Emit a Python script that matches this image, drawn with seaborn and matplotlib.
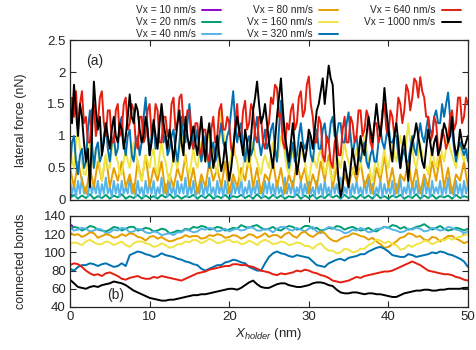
import numpy as np
import pandas as pd
import matplotlib
matplotlib.use('Agg')
import matplotlib.pyplot as plt
import seaborn as sns
from matplotlib.lines import Line2D
from matplotlib.ticker import FormatStrFormatter

# --- data ---

speeds = ['Vx = 10 nm/s', 'Vx = 20 nm/s', 'Vx = 40 nm/s', 'Vx = 80 nm/s',
          'Vx = 160 nm/s', 'Vx = 320 nm/s', 'Vx = 640 nm/s', 'Vx = 1000 nm/s']
colors = ['#9400d3', '#009e73', '#56b4e9', '#e69f00',
          '#f0e442', '#0072b2', '#e51e10', '#000000']

# lateral force (nN); sampling step (nm) of each run
force_steps = [0.15, 0.5, 0.25, 0.25, 0.25, 0.25, 0.25, 0.25]
force_10 = [0.05, 0.08, 0.06]      # only a short run
force_20 = [0.03, 0.08, 0.02, 0.07, 0.03, 0.09, 0.02, 0.06, 0.03, 0.08,
            0.02, 0.07, 0.04, 0.09, 0.02, 0.06, 0.03, 0.08, 0.02, 0.07,
            0.03, 0.06, 0.02, 0.08, 0.04, 0.09, 0.03, 0.07, 0.02, 0.06,
            0.04, 0.08, 0.02, 0.07, 0.03, 0.09, 0.02, 0.06, 0.03, 0.08,
            0.02, 0.06, 0.04, 0.08, 0.03, 0.07, 0.02, 0.09, 0.03, 0.06,
            0.02, 0.08, 0.03, 0.07, 0.02, 0.06, 0.04, 0.09, 0.02, 0.07,
            0.03, 0.08, 0.02, 0.06, 0.03, 0.09, 0.04, 0.07, 0.02, 0.08,
            0.03, 0.06, 0.02, 0.08, 0.03, 0.07, 0.02, 0.09, 0.03, 0.06,
            0.02, 0.07, 0.04, 0.08, 0.02, 0.06, 0.03, 0.09, 0.02, 0.07,
            0.03, 0.08, 0.02, 0.06, 0.04, 0.07, 0.02, 0.08, 0.03, 0.06,
            0.04]
force_40 = [0.3, 0.1, 0.25, 0.05, 0.3, 0.1, 0.35, 0.1, 0.2, 0.05, 0.3, 0.1, 0.25, 0.1, 0.3, 0.05, 0.25, 0.1, 0.35, 0.1,
            0.2, 0.05, 0.3, 0.1, 0.25, 0.05, 0.3, 0.1, 0.2, 0.1, 0.35, 0.1, 0.25, 0.05, 0.3, 0.1, 0.2, 0.05, 0.3, 0.1,
            0.25, 0.1, 0.3, 0.05, 0.2, 0.1, 0.35, 0.1, 0.25, 0.05, 0.3, 0.1, 0.2, 0.05, 0.3, 0.1, 0.25, 0.1, 0.35, 0.05,
            0.25, 0.1, 0.3, 0.05, 0.2, 0.1, 0.3, 0.05, 0.25, 0.1, 0.35, 0.1, 0.2, 0.05, 0.3, 0.1, 0.25, 0.05, 0.3, 0.1,
            0.2, 0.05, 0.3, 0.1, 0.25, 0.1, 0.35, 0.05, 0.2, 0.1, 0.3, 0.05, 0.25, 0.1, 0.3, 0.1, 0.2, 0.05, 0.3, 0.1,
            0.3, 0.1, 0.25, 0.05, 0.3, 0.1, 0.2, 0.05, 0.35, 0.1, 0.25, 0.1, 0.3, 0.05, 0.2, 0.1, 0.3, 0.05, 0.25, 0.1,
            0.35, 0.1, 0.2, 0.05, 0.3, 0.1, 0.25, 0.05, 0.3, 0.1, 0.2, 0.05, 0.3, 0.1, 0.25, 0.1, 0.35, 0.05, 0.2, 0.1,
            0.3, 0.05, 0.25, 0.1, 0.3, 0.1, 0.2, 0.05, 0.3, 0.1, 0.35, 0.1, 0.25, 0.05, 0.2, 0.1, 0.3, 0.05, 0.25, 0.1,
            0.2, 0.1, 0.3, 0.05, 0.25, 0.1, 0.35, 0.05, 0.2, 0.1, 0.3, 0.05, 0.25, 0.1, 0.3, 0.1, 0.2, 0.05, 0.35, 0.1,
            0.25, 0.05, 0.3, 0.1, 0.2, 0.1, 0.3, 0.05, 0.25, 0.1, 0.35, 0.1, 0.2, 0.05, 0.3, 0.1, 0.25, 0.05, 0.3, 0.1,
            0.25]
force_80 = [0.5, 0.35, 0.2, 0.4, 0.6, 0.45, 0.3, 0.2, 0.1, 0.3, 0.5, 0.35, 0.2, 0.4, 0.6, 0.45, 0.3, 0.5, 0.7, 0.45,
            0.2, 0.35, 0.5, 0.4, 0.3, 0.45, 0.6, 0.4, 0.2, 0.3, 0.4, 0.25, 0.1, 0.35, 0.6, 0.45, 0.3, 0.5, 0.7, 0.45,
            0.2, 0.35, 0.5, 0.4, 0.3, 0.45, 0.6, 0.35, 0.1, 0.25, 0.4, 0.3, 0.2, 0.35, 0.5, 0.4, 0.3, 0.5, 0.7, 0.45,
            0.2, 0.35, 0.5, 0.3, 0.1, 0.25, 0.4, 0.3, 0.2, 0.4, 0.6, 0.45, 0.3, 0.4, 0.5, 0.35, 0.2, 0.4, 0.6, 0.35,
            0.1, 0.25, 0.4, 0.3, 0.2, 0.35, 0.5, 0.4, 0.3, 0.5, 0.7, 0.45, 0.2, 0.35, 0.5, 0.3, 0.1, 0.25, 0.4, 0.35,
            0.3, 0.45, 0.6, 0.4, 0.2, 0.35, 0.5, 0.3, 0.1, 0.25, 0.4, 0.3, 0.2, 0.4, 0.6, 0.45, 0.3, 0.4, 0.5, 0.3,
            0.1, 0.25, 0.4, 0.3, 0.2, 0.4, 0.6, 0.45, 0.3, 0.5, 0.7, 0.45, 0.2, 0.35, 0.5, 0.3, 0.1, 0.25, 0.4, 0.3,
            0.2, 0.35, 0.5, 0.4, 0.3, 0.45, 0.6, 0.4, 0.2, 0.3, 0.4, 0.25, 0.1, 0.3, 0.5, 0.4, 0.3, 0.5, 0.7, 0.45,
            0.2, 0.35, 0.5, 0.3, 0.1, 0.25, 0.4, 0.35, 0.3, 0.45, 0.6, 0.4, 0.2, 0.35, 0.5, 0.3, 0.1, 0.25, 0.4, 0.3,
            0.2, 0.4, 0.6, 0.45, 0.3, 0.5, 0.7, 0.45, 0.2, 0.35, 0.5, 0.3, 0.1, 0.25, 0.4, 0.35, 0.3, 0.45, 0.6, 0.4,
            0.2]
force_160 = [0.9, 0.6, 0.5, 0.9, 1.1, 0.8, 0.6, 0.4, 0.4, 0.7, 0.9, 0.6, 0.5, 0.8, 0.8, 0.5, 0.3, 0.5, 0.7, 0.5,
             0.5, 0.8, 1.0, 0.7, 0.6, 0.4, 0.4, 0.6, 0.8, 0.6, 0.5, 0.7, 0.9, 0.7, 0.6, 0.4, 0.3, 0.5, 0.7, 0.6,
             0.5, 0.7, 0.8, 0.5, 0.4, 0.7, 0.9, 0.7, 0.6, 0.4, 0.3, 0.5, 0.7, 0.6, 0.5, 0.8, 1.0, 0.8, 0.6, 0.5,
             0.4, 0.6, 0.8, 0.6, 0.5, 0.7, 0.9, 0.8, 0.6, 0.9, 1.1, 0.9, 0.7, 0.5, 0.4, 0.9, 1.4, 1.1, 0.8, 0.6,
             0.5, 0.7, 0.9, 0.7, 0.6, 0.4, 0.3, 0.5, 0.8, 0.6, 0.5, 0.7, 0.9, 0.7, 0.6, 0.5, 0.4, 0.6, 0.7, 0.6,
             0.5, 0.7, 0.9, 0.8, 0.6, 0.8, 1.0, 0.9, 0.7, 0.5, 0.4, 0.6, 0.8, 0.6, 0.5, 0.7, 0.9, 0.7, 0.6, 0.4,
             0.3, 0.5, 0.7, 0.6, 0.5, 0.7, 0.8, 0.6, 0.4, 0.5, 0.6, 0.4, 0.3, 0.5, 0.7, 0.6, 0.5, 0.7, 0.9, 0.7,
             0.6, 0.5, 0.4, 0.6, 0.8, 0.6, 0.5, 0.8, 1.0, 0.8, 0.6, 0.4, 0.3, 0.5, 0.7, 0.5, 0.4, 0.6, 0.8, 0.6,
             0.5, 0.7, 0.9, 0.7, 0.6, 0.8, 1.0, 0.8, 0.7, 0.9, 1.2, 0.9, 0.8, 0.6, 0.5, 0.7, 0.9, 0.7, 0.6, 0.5,
             0.4, 0.6, 0.8, 0.6, 0.5, 0.7, 0.9, 0.7, 0.6, 0.8, 1.0, 0.8, 0.7, 0.6, 0.5, 0.7, 0.9, 0.7, 0.6, 0.7,
             0.8]
force_320 = [0.5, 0.9, 1.0, 0.6, 0.4, 0.7, 0.8, 0.5, 0.6, 1.1, 1.4, 0.9, 0.5, 0.8, 0.9, 0.6, 0.7, 1.0, 1.2, 0.8,
             0.6, 0.9, 1.0, 0.7, 0.8, 1.2, 1.3, 0.9, 0.7, 1.0, 1.1, 0.7, 0.6, 0.9, 1.0, 0.7, 0.9, 1.3, 1.6, 1.1,
             0.7, 1.0, 1.2, 0.8, 0.9, 1.3, 1.35, 0.9, 1.0, 0.7, 0.8, 1.0, 1.1, 0.8, 0.6, 0.9, 1.3, 1.0, 0.9, 1.2,
             1.5, 1.1, 0.8, 0.9, 1.1, 0.8, 0.6, 0.8, 1.0, 0.7, 0.5, 0.8, 0.9, 0.6, 0.7, 1.0, 1.2, 0.9, 0.8, 1.0,
             1.1, 1.4, 1.7, 1.2, 0.9, 1.1, 1.2, 0.8, 0.6, 0.9, 1.0, 0.7, 0.8, 1.1, 1.3, 0.9, 0.7, 0.9, 1.1, 0.8,
             0.9, 1.1, 1.2, 0.8, 0.6, 1.1, 1.55, 1.2, 1.0, 0.7, 0.5, 0.7, 0.9, 0.6, 0.7, 1.0, 1.2, 0.9, 0.8, 0.9,
             1.0, 0.7, 0.6, 0.9, 1.1, 0.8, 0.8, 1.1, 1.2, 0.9, 0.9, 1.2, 1.3, 1.0, 1.0, 1.2, 1.2, 0.9, 0.9, 1.2,
             1.37, 1.0, 0.7, 0.9, 1.0, 0.7, 0.6, 0.8, 0.9, 0.6, 0.5, 0.7, 0.8, 0.6, 0.6, 0.9, 1.1, 0.9, 0.8, 1.0,
             1.2, 0.9, 0.9, 1.0, 1.0, 0.7, 0.5, 0.7, 0.8, 0.6, 0.6, 0.8, 1.0, 0.8, 0.7, 1.0, 1.2, 1.0, 0.9, 1.1,
             1.3, 1.1, 1.0, 1.3, 1.4, 1.2, 1.2, 1.5, 1.3, 1.5, 1.68, 1.3, 1.1, 0.8, 0.6, 0.8, 0.9, 0.8, 0.7, 0.8,
             0.6]
force_640 = [1.2, 1.6, 1.3, 1.7, 1.1, 1.5, 1.7, 1.2, 1.3, 0.9, 0.9, 1.4, 1.5, 1.0, 1.2, 1.6, 1.7, 1.2, 1.0, 1.4,
             1.4, 0.9, 0.9, 1.4, 1.5, 1.0, 1.1, 1.5, 1.6, 1.1, 1.2, 1.5, 1.4, 0.9, 0.8, 1.3, 1.3, 0.9, 1.0, 1.4,
             1.5, 1.0, 1.1, 1.5, 1.4, 0.9, 0.9, 1.3, 1.3, 1.0, 1.0, 1.5, 1.6, 1.1, 1.2, 1.6, 1.65, 1.2, 1.1, 1.4,
             1.4, 0.9, 0.8, 1.2, 1.2, 0.8, 0.7, 1.1, 1.1, 0.7, 0.6, 1.1, 1.3, 0.9, 1.0, 1.4, 1.5, 1.1, 1.1, 1.3,
             1.2, 0.8, 0.7, 1.2, 1.5, 1.0, 1.0, 1.4, 1.55, 1.1, 1.2, 1.5, 1.4, 1.0, 0.9, 1.3, 1.3, 0.9, 0.8, 1.1,
             1.2, 1.6, 1.5, 1.8, 1.75, 1.3, 1.35, 0.9, 0.8, 1.2, 1.1, 1.4, 1.5, 1.1, 1.2, 1.6, 1.7, 1.3, 1.4, 1.8,
             1.93, 1.5, 1.3, 0.9, 0.9, 1.3, 1.2, 0.7, 0.6, 1.0, 0.9, 0.6, 0.5, 0.9, 1.0, 0.7, 0.7, 1.1, 1.3, 0.9,
             0.9, 1.3, 1.2, 0.9, 1.0, 1.4, 1.4, 1.0, 1.1, 1.4, 1.3, 0.9, 0.8, 1.2, 1.2, 0.9, 1.0, 1.4, 1.5, 1.1,
             1.0, 1.4, 1.3, 1.0, 1.2, 1.6, 1.5, 1.2, 1.4, 1.8, 1.7, 1.4, 1.6, 1.9, 1.85, 1.6, 1.92, 1.7, 1.6, 1.3,
             1.3, 0.9, 1.0, 1.3, 1.2, 0.8, 0.8, 1.1, 1.0, 0.8, 0.9, 1.3, 1.4, 1.1, 1.2, 1.6, 1.6, 1.2, 1.3, 1.6,
             1.5]
force_1000 = [1.5, 1.2, 1.8, 1.4, 1.0, 1.5, 1.3, 0.9, 0.6, 0.8, 0.2, 1.0, 1.85, 1.4, 1.1, 1.3, 0.7, 0.9, 1.2, 1.0,
              0.8, 1.1, 1.3, 1.0, 0.9, 1.2, 1.1, 0.8, 1.0, 1.3, 1.65, 1.3, 1.2, 1.5, 1.4, 1.1, 0.9, 1.0, 1.3, 1.1,
              0.7, 0.9, 1.25, 1.0, 0.8, 1.2, 1.5, 1.2, 1.0, 0.8, 1.1, 0.9, 0.6, 0.9, 1.2, 1.4, 0.9, 0.7, 1.3, 1.0,
              0.8, 1.0, 1.15, 0.9, 0.7, 1.0, 1.3, 0.9, 0.6, 1.0, 1.2, 0.8, 0.5, 0.7, 1.0, 0.7, 0.45, 0.6, 0.9, 0.6,
              0.3, 0.5, 0.8, 1.1, 1.3, 1.1, 0.9, 0.7, 1.1, 0.9, 0.6, 1.0, 1.4, 1.6, 1.85, 1.5, 1.2, 1.3, 1.5, 1.2,
              0.9, 0.7, 0.5, 0.9, 1.3, 1.6, 1.9, 1.4, 1.0, 0.8, 0.6, 0.9, 1.2, 0.8, 0.4, 0.6, 0.9, 0.8, 0.6, 0.8,
              1.1, 1.0, 0.8, 1.1, 1.4, 1.5, 1.7, 1.9, 1.5, 1.8, 2.1, 1.9, 1.8, 1.2, 0.7, 0.3, 0.05, 0.2, 0.6, 0.4,
              0.2, 0.5, 0.8, 0.6, 0.4, 0.7, 1.0, 0.8, 0.7, 1.0, 1.3, 1.1, 0.9, 1.2, 1.5, 1.2, 1.0, 1.3, 1.75, 1.4,
              1.1, 0.8, 0.6, 1.0, 1.2, 0.9, 0.5, 0.8, 1.0, 0.6, 0.3, 0.7, 0.9, 1.0, 1.2, 1.0, 0.8, 0.6, 0.5, 0.8,
              1.1, 0.9, 0.7, 0.9, 1.0, 0.7, 0.8, 1.0, 1.2, 1.1, 0.9, 1.0, 1.3, 0.9, 0.7, 0.8, 1.1, 0.9, 0.8, 0.9,
              1.0]

# connected bonds, one value every 0.5 nm (short run for 10 nm/s)
bonds_steps = [0.15, 0.5, 0.5, 0.5, 0.5, 0.5, 0.5, 0.5]
bonds_10 = [128, 130, 129]
bonds_20 = [125, 128, 127, 124, 126, 129, 128, 125, 124, 123,
            125, 128, 127, 124, 126, 128, 128, 124, 125, 127,
            126, 123, 124, 126, 125, 121, 122, 124, 123, 126,
            125, 128, 127, 129, 128, 125, 126, 128, 127, 124,
            125, 127, 126, 130, 128, 127, 129, 130, 127, 125,
            126, 128, 125, 124, 127, 129, 128, 125, 126, 129,
            129, 126, 127, 124, 125, 127, 126, 129, 128, 125,
            127, 128, 126, 124, 125, 127, 124, 123, 126, 128,
            127, 130, 129, 126, 128, 125, 126, 128, 129, 131,
            128, 125, 127, 129, 126, 124, 125, 127, 126, 124,
            126]
bonds_40 = [127, 124, 125, 127, 126, 123, 124, 126, 125, 121,
            122, 125, 124, 127, 126, 122, 123, 126, 125, 122,
            121, 123, 122, 119, 120, 121, 119, 122, 122, 125,
            124, 122, 123, 126, 125, 127, 126, 123, 124, 126,
            123, 125, 126, 124, 125, 128, 127, 124, 124, 126,
            125, 122, 126, 128, 128, 125, 124, 127, 125, 123,
            126, 128, 123, 121, 125, 128, 127, 125, 124, 121,
            122, 125, 124, 127, 125, 122, 123, 126, 126, 128,
            127, 125, 124, 122, 123, 126, 125, 127, 126, 123,
            124, 127, 126, 124, 125, 128, 127, 125, 124, 121,
            123]
bonds_80 = [122, 119, 120, 117, 119, 122, 121, 116, 118, 120,
            119, 116, 117, 120, 118, 121, 120, 117, 116, 113,
            117, 118, 115, 117, 114, 112, 113, 115, 116, 119,
            117, 118, 118, 115, 116, 119, 118, 120, 119, 116,
            117, 119, 118, 115, 117, 120, 119, 116, 118, 121,
            117, 119, 119, 116, 120, 122, 118, 116, 121, 123,
            119, 117, 120, 123, 121, 116, 113, 112, 115, 117,
            118, 121, 120, 118, 117, 114, 116, 112, 109, 105,
            106, 109, 112, 116, 117, 121, 120, 117, 118, 114,
            113, 117, 116, 112, 115, 118, 118, 115, 113, 110,
            112]
bonds_160 = [109, 111, 110, 108, 112, 114, 111, 109, 109, 112,
             111, 108, 110, 112, 108, 106, 110, 112, 112, 110,
             109, 106, 107, 110, 108, 105, 106, 109, 109, 112,
             111, 114, 113, 110, 112, 115, 113, 110, 111, 113,
             114, 111, 112, 109, 110, 113, 111, 108, 112, 114,
             112, 109, 110, 112, 111, 108, 109, 111, 110, 107,
             107, 104, 108, 110, 105, 102, 102, 99, 100, 104,
             103, 100, 101, 104, 104, 108, 110, 114, 113, 110,
             112, 109, 108, 103, 104, 108, 106, 109, 110, 113,
             112, 109, 111, 114, 113, 116, 114, 116, 117, 119,
             120]
bonds_320 = [82, 80, 84, 86, 86, 88, 87, 85, 87, 88,
             86, 84, 85, 88, 85, 97, 99, 101, 100, 98,
             97, 95, 96, 99, 97, 96, 95, 93, 92, 90,
             89, 87, 86, 82, 80, 82, 84, 86, 86, 89,
             90, 92, 91, 89, 88, 84, 82, 80, 80, 88,
             95, 99, 101, 99, 98, 96, 95, 97, 96, 95,
             94, 90, 86, 85, 84, 88, 90, 92, 93, 91,
             94, 95, 96, 98, 98, 101, 103, 105, 106, 104,
             101, 97, 96, 95, 95, 98, 97, 95, 96, 97,
             98, 100, 99, 101, 100, 98, 97, 95, 93, 90,
             84]
bonds_640 = [86, 88, 87, 84, 80, 77, 75, 76, 74, 77,
             78, 76, 74, 71, 70, 72, 73, 74, 72, 71,
             71, 73, 72, 74, 73, 72, 71, 70, 69, 71,
             73, 75, 77, 78, 79, 81, 82, 83, 84, 85,
             85, 87, 87, 86, 86, 85, 84, 82, 80, 79,
             78, 76, 75, 77, 76, 77, 78, 80, 79, 81,
             80, 78, 77, 75, 74, 72, 69, 68, 67, 68,
             69, 71, 73, 72, 74, 75, 76, 77, 78, 79,
             79, 80, 82, 84, 86, 88, 90, 88, 86, 83,
             80, 79, 78, 77, 76, 76, 75, 73, 72, 70,
             69]
bonds_1000 = [70, 66, 62, 61, 60, 62, 63, 62, 64, 65,
              66, 68, 67, 66, 64, 61, 58, 56, 54, 52,
              50, 49, 48, 47, 47, 48, 48, 49, 50, 51,
              52, 53, 53, 54, 54, 55, 56, 57, 58, 59,
              60, 60, 59, 61, 64, 67, 69, 65, 62, 61,
              61, 63, 65, 66, 66, 64, 63, 62, 62, 63,
              64, 66, 67, 67, 66, 64, 63, 59, 56, 55,
              55, 56, 56, 55, 54, 55, 55, 54, 54, 53,
              52, 51, 51, 53, 55, 56, 57, 58, 58, 59,
              59, 58, 58, 59, 59, 60, 60, 60, 60, 61,
              61]

force_series = [force_10, force_20, force_40, force_80,
                force_160, force_320, force_640, force_1000]
bonds_series = [bonds_10, bonds_20, bonds_40, bonds_80,
                bonds_160, bonds_320, bonds_640, bonds_1000]


def long_frame(series, steps):
    parts = []
    for label, vals, s in zip(speeds, series, steps):
        parts.append(pd.DataFrame({'x': np.arange(len(vals)) * s,
                                   'y': vals, 'speed': label}))
    return pd.concat(parts, ignore_index=True)


df_force = long_frame(force_series, force_steps)
df_bonds = long_frame(bonds_series, bonds_steps)

sns.set_style('ticks')
plt.rcParams['font.family'] = ['Liberation Sans', 'DejaVu Sans']
plt.rcParams['mathtext.fontset'] = 'custom'
plt.rcParams['mathtext.rm'] = 'Liberation Sans'
plt.rcParams['mathtext.it'] = 'Liberation Sans:italic'

fig = plt.figure(figsize=(4.77, 3.5), dpi=100)
ax1 = fig.add_axes([0.1468, 0.4286, 0.8343, 0.4571])
ax2 = fig.add_axes([0.1468, 0.1229, 0.8343, 0.26])

for ax, df in [(ax1, df_force), (ax2, df_bonds)]:
    sns.lineplot(data=df, x='x', y='y', hue='speed', hue_order=speeds,
                 palette=colors, estimator=None, sort=False,
                 linewidth=1.4, legend=False, ax=ax)
    ax.set_xlim(0, 50)
    ax.set_xticks(np.arange(0, 51, 10))
    ax.tick_params(direction='in', top=True, right=True, length=4,
                   width=0.8, labelsize=9.5, pad=3)
    for sp in ax.spines.values():
        sp.set_linewidth(0.9)

ax1.set_ylim(0, 2.5)
ax1.set_yticks(np.arange(0, 2.51, 0.5))
ax1.yaxis.set_major_formatter(FormatStrFormatter('%g'))
ax1.tick_params(labelbottom=False)
ax1.set_xlabel('')
ax1.set_ylabel('lateral force (nN)', fontsize=9)
ax1.yaxis.set_label_coords(-0.108, 0.5)
ax1.text(2.0, 2.17, '(a)', fontsize=10, va='center')

ax2.set_ylim(40, 140)
ax2.set_yticks(np.arange(40, 141, 20))
ax2.set_ylabel('connected bonds', fontsize=9)
ax2.yaxis.set_label_coords(-0.108, 0.5)
ax2.set_xlabel(r'$X_{holder}$ (nm)', fontsize=9.5, labelpad=2)
ax2.text(4.6, 53, '(b)', fontsize=10, va='center')

handles = [Line2D([], [], color=c, lw=1.4) for c in colors]
fig.legend(handles, speeds, ncol=3, loc='upper right',
           bbox_to_anchor=(0.977, 1.0), frameon=False, markerfirst=False,
           fontsize=7.3, handlelength=1.9, handletextpad=0.6,
           columnspacing=2.6, labelspacing=0.2, borderaxespad=0.1)

fig.savefig('out.png', dpi=100)
